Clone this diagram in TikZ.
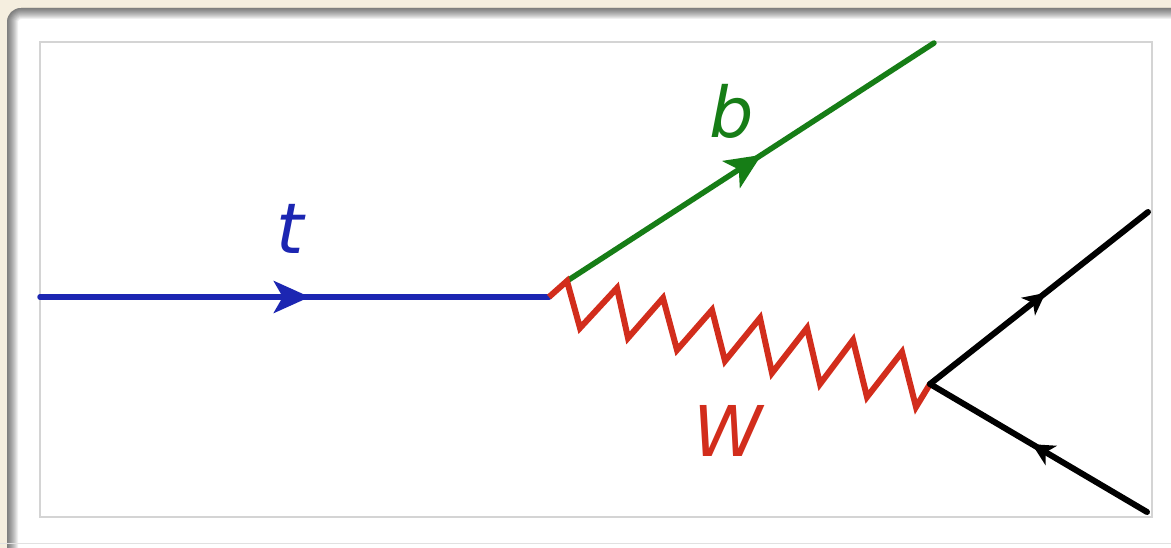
\documentclass[tikz,border=0pt]{standalone}
\usepackage{fontspec}
\setmainfont{DejaVu Sans}
\usetikzlibrary{arrows.meta,decorations.markings}
\definecolor{bgbeige}{RGB}{245,238,223}
\definecolor{framegray}{RGB}{212,212,212}
\definecolor{tblue}{RGB}{28,38,178}
\definecolor{bgreen}{RGB}{22,125,22}
\definecolor{wred}{RGB}{210,45,28}
\tikzset{
  fermion/.style={line width=5.5pt,line cap=round,postaction={decorate},
    decoration={markings,mark=at position #1 with {\arrow{Stealth[length=36pt,width=32pt,inset=9pt]}}}},
  smallfermion/.style={line width=6pt,line cap=round,postaction={decorate},
    decoration={markings,mark=at position #1 with {\arrow{Stealth[length=22pt,width=22pt,inset=6pt]}}}},
  boson/.style={line width=6pt,line join=miter,color=wred},
  lbl/.style={font=\fontsize{70}{80}\selectfont\itshape,inner sep=0pt}
}
\begin{document}
\begin{tikzpicture}[x=1pt,y=-1pt]
\useasboundingbox (0,0) rectangle (1171,548);
% background and panel
\fill[bgbeige] (0,0) rectangle (1171,548);
\begin{scope}
  \clip[rounded corners=14pt] (7,8) rectangle (1200,580);
  \fill[white] (7,8) rectangle (1200,580);
  \foreach \w in {2,4,...,22} {
    \draw[black,opacity=0.06,line width=\w pt,rounded corners=14pt] (7,8) rectangle (1200,580);
  }
\end{scope}
\draw[framegray!70,line width=1pt] (0,543) -- (1171,543);
% inner frame
\draw[framegray,line width=1.5pt] (40,42) rectangle (1152,517);
% coordinates
\coordinate (tin) at (40,297);
\coordinate (v1) at (549,297);
\coordinate (bstart) at (567,281);
\coordinate (bout) at (934,43);
\coordinate (v2) at (930,384);
\coordinate (fup) at (1148,212);
\coordinate (fdown) at (1147,512);
% top quark
\draw[fermion=0.53,tblue] (tin) -- (v1);
% b quark
\draw[fermion=0.53,bgreen] (bstart) -- (bout);
% W boson zigzag
\draw[boson] (v1) -- (567,281) -- (580,328) -- (617,288) -- (628,338) -- (663,298)
  -- (677,350) -- (712,310) -- (725,361) -- (760,318) -- (772,373) -- (807,328)
  -- (820,384) -- (853,340) -- (867,397) -- (902,352) -- (916,407) -- (v2);
% decay fermions
\draw[smallfermion=0.53,black] (v2) -- (fup);
\draw[smallfermion=0.53,black] (fdown) -- (v2);
% labels
\node[lbl,tblue] (lt) at (290,229) {t};
\node[lbl,bgreen] (lb) at (732,111) {b};
\node[lbl,wred] (lw) at (728,431) {W};
\end{tikzpicture}
\end{document}
